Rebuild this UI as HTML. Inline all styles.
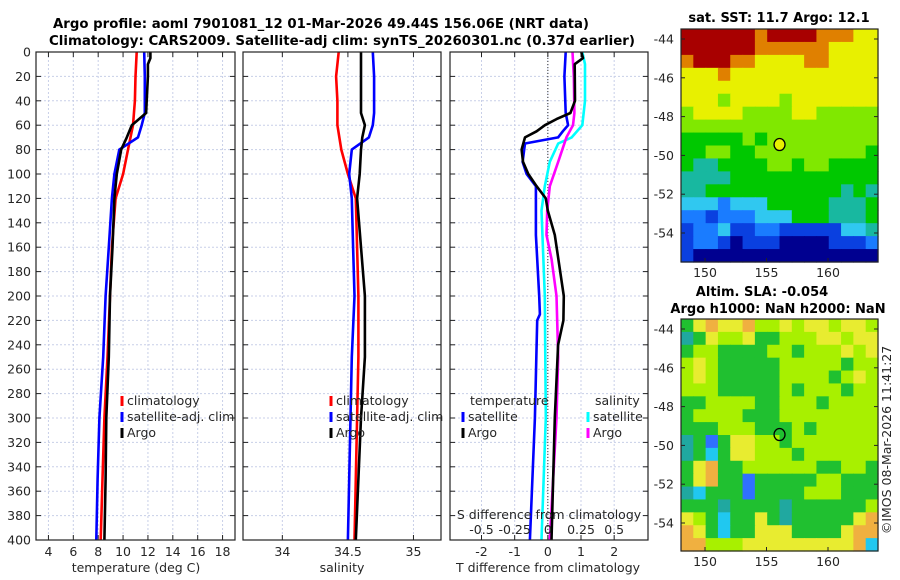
<!DOCTYPE html>
<html><head><meta charset="utf-8"><style>
html,body{margin:0;padding:0;background:#fff}
svg{display:block;font-family:"DejaVu Sans","Liberation Sans",sans-serif}
.t{font-size:12.5px;fill:#262626}
.b{font-weight:bold;font-size:13px;fill:#000}
</style></head><body>
<svg id="c" width="900" height="580" viewBox="0 0 900 580" xmlns="http://www.w3.org/2000/svg">
<text class="b" x="321" y="28" text-anchor="middle" textLength="536" lengthAdjust="spacingAndGlyphs">Argo profile: aoml 7901081_12 01-Mar-2026 49.44S 156.06E (NRT data)</text>
<text class="b" x="342" y="45" text-anchor="middle" textLength="586" lengthAdjust="spacingAndGlyphs">Climatology: CARS2009. Satellite-adj clim: synTS_20260301.nc (0.37d earlier)</text>
<text class="b" x="779" y="22" text-anchor="middle">sat. SST: 11.7 Argo: 12.1</text>
<text class="b" x="762" y="296" text-anchor="middle">Altim. SLA: -0.054</text>
<text class="b" x="778" y="313" text-anchor="middle">Argo h1000: NaN h2000: NaN</text>
<text class="t" x="0" y="0" transform="translate(891,440) rotate(-90)" text-anchor="middle">©IMOS 08-Mar-2026 11:41:27</text>
<g id="g"></g>
</svg>
<script>
const depthTicks=[0,20,40,60,80,100,120,140,160,180,200,220,240,260,280,300,320,340,360,380,400];
const tempTicks=[4,6,8,10,12,14,16,18];
const salTicks=[34,34.5,35];
const tdTicks=[-2,-1,0,1,2];
const sdTicks=[-0.5,-0.25,0,0.25,0.5];
const sdLabels=["-0.5","-0.25","0","0.25","0.5"];
// temperature
const clD=[0,20,40,60,80,100,120,160,200,250,300,350,400];
const clT=[11.1,11.0,10.95,10.8,10.4,10.0,9.4,9.1,8.95,8.75,8.5,8.35,8.2];
const saD=[0,20,40,50,60,70,80,100,120,160,200,250,300,350,400];
const saT=[11.7,11.75,11.75,11.75,11.5,11.2,9.7,9.3,9.1,8.85,8.6,8.4,8.1,7.95,7.85];
const arD=[0,5,10,20,40,50,60,70,80,100,120,160,200,250,300,350,400];
const arT=[12.2,12.2,12.0,12.0,11.9,11.85,10.7,10.3,9.85,9.5,9.3,9.15,8.95,8.85,8.65,8.6,8.5];
// salinity
const clS=[34.43,34.41,34.42,34.42,34.45,34.5,34.56,34.57,34.58,34.58,34.57,34.56,34.55];
const saS=[34.69,34.7,34.7,34.7,34.69,34.66,34.53,34.51,34.53,34.54,34.55,34.53,34.52,34.51,34.5];
const arS=[34.6,34.6,34.6,34.6,34.6,34.6,34.63,34.61,34.6,34.59,34.57,34.6,34.63,34.63,34.6,34.58,34.56];
// differences
const tdSatD=[0,20,50,60,65,70,75,90,100,110,150,200,215,220,300,400];
const tdSat=[0.54,0.5,0.54,0.61,0.45,0.31,-0.69,-0.76,-0.64,-0.36,-0.36,-0.26,-0.24,-0.32,-0.39,-0.54];
const tdArD=[0,5,10,40,50,55,60,65,70,80,90,100,110,120,130,150,200,220,240,300,400];
const tdAr=[1.01,1.06,0.81,0.82,0.68,0.26,-0.09,-0.34,-0.69,-0.79,-0.75,-0.59,-0.34,-0.06,0.0,0.21,0.48,0.47,0.31,0.21,0.11];
const sdSatD=[0,10,40,60,70,75,90,110,130,200,300,400];
const sdSat=[0.26,0.28,0.28,0.26,0.18,0.078,0.015,-0.023,-0.048,-0.023,-0.015,-0.048];
const sdArD=[0,20,50,60,70,90,110,130,150,170,200,250,300,400];
const sdAr=[0.186,0.196,0.2,0.19,0.14,0.078,0.015,-0.005,-0.01,0.028,0.065,0.078,0.065,0.015];
// maps (colour index 0..9)
const sstGrid=["9999998999988877","9999998888887777","8999887777887777","7778777777777777","7777777777777777","7776777767777777","6777766667766666","6666666666666666","5555565666666666","5566556666666665","5445555665665555","4444555555555555","4455555555555454","3332333555554445","2212223335554445","1223112211111334","1221011100001112","1000000000000000"];
const slaGrid=["5787786676776776","4576675566677677","5665555665666767","6765555566666566","6765555566665676","6665555565666566","5566665566656666","5666655566666666","5556665556566666","4525776656666666","4535776665666666","5785566666655665","5785525555566555","4355525555666555","5554555545555556","7653557545555578","8753557775555788","8866677777777783"];
const latTicks=[-44,-46,-48,-50,-52,-54];
const lonTicks=[150,155,160];
const floatLon=156.06, floatLat=-49.44;

const NS="http://www.w3.org/2000/svg";
const G=document.getElementById('g');
function mk(tag,at,parent){const e=document.createElementNS(NS,tag);for(const k in at)e.setAttribute(k,at[k]);(parent||G).appendChild(e);return e;}
const Y0=52,Y1=540;
const yD=d=>Y0+d*(Y1-Y0)/400;
function lin(d0,d1,r0,r1){return v=>r0+(v-d0)*(r1-r0)/(d1-d0);}
const panels=[{x0:36,x1:235,f:lin(3,19,36,235)},{x0:243,x1:441,f:lin(33.7,35.21,243,441)},{x0:450,x1:648,f:lin(-2.95,3.02,450,648)}];
const sdX=lin(-0.7375,0.755,450,648);
const jet=["#000090","#0a40e0","#1a7cff","#30c8f0","#18b8a0","#00c800","#80e800","#e8f000","#e08000","#a80000"];
const slaC=["#0030c0","#2040e0","#3070ff","#20c8f0","#20a8a0","#20c030","#a8f000","#e8ec30","#f0b040","#f0a030"];

panels.forEach((p,i)=>{
  depthTicks.forEach(d=>{
    let l=mk('line',{x1:p.x0,x2:p.x1,y1:yD(d),y2:yD(d),stroke:'#c8cfe8','stroke-dasharray':'2,2','stroke-width':1});
    
    
    mk('line',{x1:p.x0,x2:p.x0+5,y1:yD(d),y2:yD(d),stroke:'#222'});
    mk('line',{x1:p.x1-5,x2:p.x1,y1:yD(d),y2:yD(d),stroke:'#222'});
  });
});
depthTicks.forEach(d=>{const t=mk('text',{x:31,y:yD(d)+4.5,'text-anchor':'end',class:'t'});t.textContent=d;

});
function xTicks(p,ticks,labels,name){ticks.forEach((v,j)=>{const x=p.f(v);
  let l=mk('line',{x1:x,x2:x,y1:Y0,y2:Y1,stroke:'#c8cfe8','stroke-dasharray':'2,2'});
  
  
  mk('line',{x1:x,x2:x,y1:Y1-5,y2:Y1,stroke:'#222'});mk('line',{x1:x,x2:x,y1:Y0,y2:Y0+5,stroke:'#222'});
  const t=mk('text',{x:x,y:556,'text-anchor':'middle',class:'t'});t.textContent=labels?labels[j]:v;
  
  });}
xTicks(panels[0],tempTicks,null,'temperature');
xTicks(panels[1],salTicks,null,'salinity');
xTicks(panels[2],tdTicks,null,'t-difference');
let z=mk('line',{x1:panels[2].f(0),x2:panels[2].f(0),y1:Y0,y2:Y1,stroke:'#333','stroke-dasharray':'1,2'});


function series(xs,ds,fx,col,name){const pts=xs.map((v,k)=>fx(v).toFixed(1)+','+yD(ds[k]).toFixed(1)).join(' ');
  const e=mk('polyline',{points:pts,fill:'none',stroke:col,'stroke-width':2.6,'stroke-linejoin':'round'});
  
  }
series(clT,clD,panels[0].f,'#ff0000','temp-climatology-line');
series(saT,saD,panels[0].f,'#0000ff','temp-satellite-line');
series(arT,arD,panels[0].f,'#000','temp-argo-line');
series(clS,clD,panels[1].f,'#ff0000','sal-climatology-line');
series(saS,saD,panels[1].f,'#0000ff','sal-satellite-line');
series(arS,arD,panels[1].f,'#000','sal-argo-line');
series(sdSat,sdSatD,sdX,'#00ffff','sdiff-satellite-line');
series(sdAr,sdArD,sdX,'#ff00ff','sdiff-argo-line');
series(tdSat,tdSatD,panels[2].f,'#0000ff','tdiff-satellite-line');
series(tdAr,tdArD,panels[2].f,'#000','tdiff-argo-line');
panels.forEach((p,i)=>{const r=mk('rect',{x:p.x0,y:Y0,width:p.x1-p.x0,height:Y1-Y0,fill:'none',stroke:'#222','stroke-width':1.2});

});
[["temperature (deg C)",136,'temperature-axis-title'],["salinity",342,'salinity-axis-title'],["T difference from climatology",548,'t-difference-axis-title']].forEach(a=>{const t=mk('text',{x:a[1],y:572,'text-anchor':'middle',class:'t'});t.textContent=a[0];

});
let st=mk('text',{x:549,y:519,'text-anchor':'middle',class:'t'});st.textContent="S difference from climatology";


sdTicks.forEach((v,j)=>{const t=mk('text',{x:sdX(v),y:534,'text-anchor':'middle',class:'t'});t.textContent=sdLabels[j];

});
function leg(x,y,col,label){mk('line',{x1:x,x2:x,y1:y-9,y2:y+1,stroke:col,'stroke-width':3});
  const t=mk('text',{x:x+5,y:y,class:'t'});t.textContent=label;
  
  }
[[122,'#ff0000','climatology',405],[122,'#0000ff','satellite-adj. clim',421],[122,'#000','Argo',437],
 [331,'#ff0000','climatology',405],[331,'#0000ff','satellite-adj. clim',421],[331,'#000','Argo',437],
 [463,'#0000ff','satellite',421],[463,'#000','Argo',437],[588,'#00ffff','satellite',421],[588,'#ff00ff','Argo',437]].forEach(a=>leg(a[0],a[3],a[1],a[2]));
let lt1=mk('text',{x:470,y:405,class:'t'});lt1.textContent='temperature';


let lt2=mk('text',{x:595,y:405,class:'t'});lt2.textContent='salinity';


function map(grid,pal,top,bot,lat44y,lat54y,name){
  const x0=681,x1=878;const rows=grid.length,cols=grid[0].length;
  const cw=(x1-x0)/cols,ch=(bot-top)/rows;
  grid.forEach((row,r)=>{for(let c=0;c<cols;c++){const v=+row[c];
    const e=mk('rect',{x:(x0+c*cw).toFixed(2),y:(top+r*ch).toFixed(2),width:(cw+0.6).toFixed(2),height:(ch+0.6).toFixed(2),fill:pal[v]});
    
    }});
  const fy=lin(-44,-54,lat44y,lat54y),fx=lin(150,160,705,828);
  latTicks.forEach(v=>{const y=fy(v);mk('line',{x1:x0,x2:x0+4,y1:y,y2:y,stroke:'#222'});mk('line',{x1:x1-4,x2:x1,y1:y,y2:y,stroke:'#222'});
    const t=mk('text',{x:674,y:y+4.5,'text-anchor':'end',class:'t'});t.textContent=v;
    
    });
  lonTicks.forEach(v=>{const x=fx(v);mk('line',{x1:x,x2:x,y1:bot-4,y2:bot,stroke:'#222'});
    const t=mk('text',{x:x,y:bot+15,'text-anchor':'middle',class:'t'});t.textContent=v;
    
    });
  const m=mk('ellipse',{cx:fx(floatLon),cy:fy(floatLat),rx:5.5,ry:6,fill:name==='sst-map'?'#e8f000':'none',stroke:'#000','stroke-width':1.3});
  
  
  const f=mk('rect',{x:x0,y:top,width:x1-x0,height:bot-top,fill:'none',stroke:'#222','stroke-width':1.2});
  
  
}
map(sstGrid,jet,29,262,39,233,'sst-map');
map(slaGrid,slaC,319,551,329,523,'sla-map');
</script>
</body></html>
